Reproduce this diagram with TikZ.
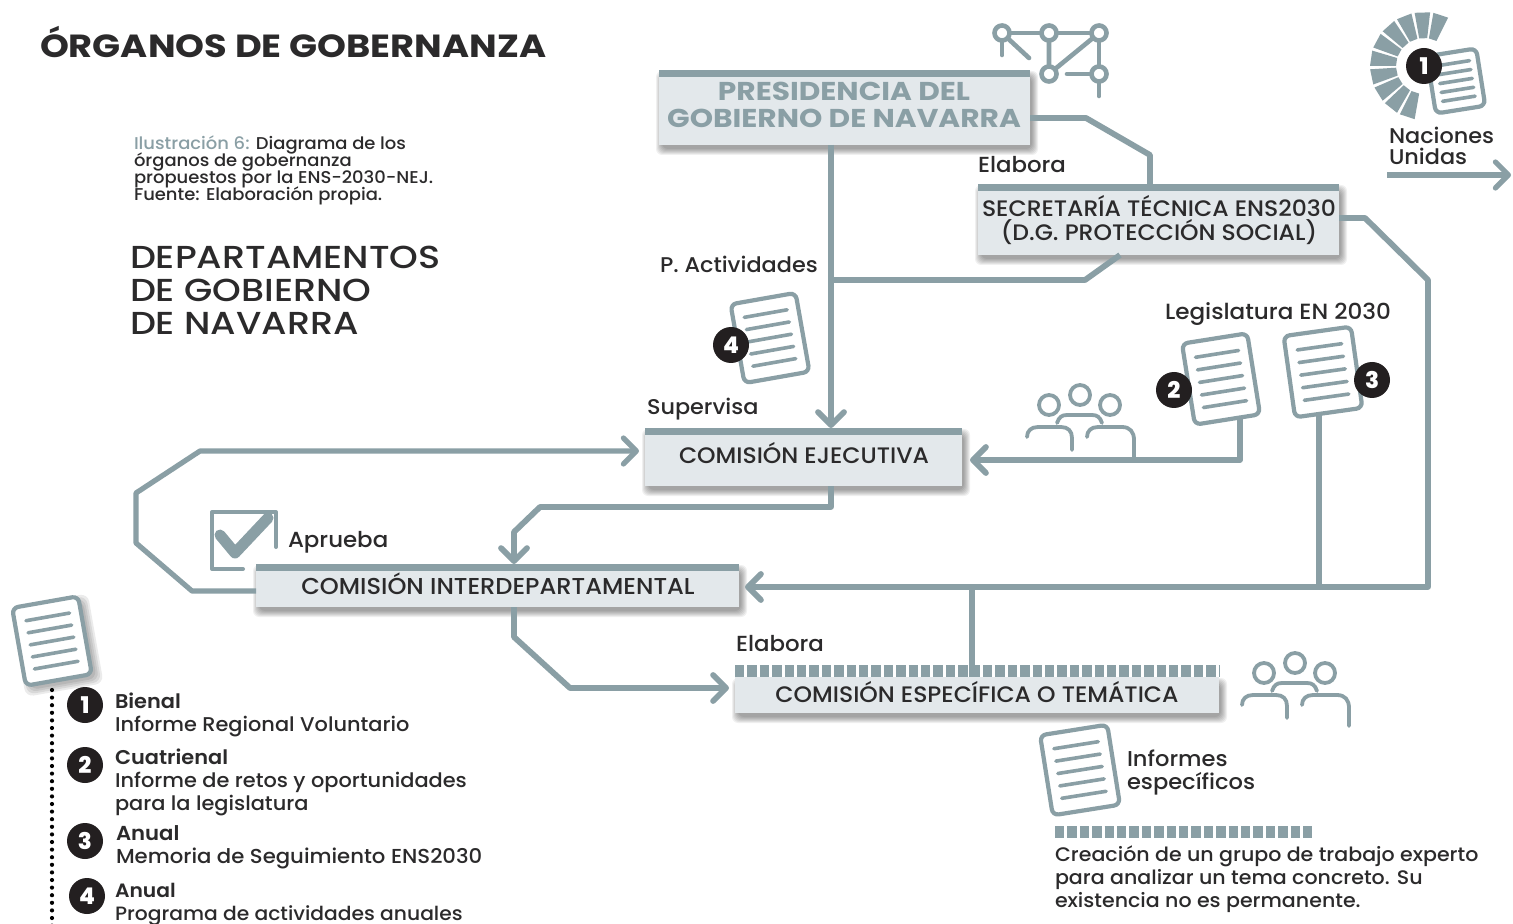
\documentclass[tikz,border=0pt]{standalone}
\usepackage{fontspec}
\setmainfont{Poppins Medium}[FakeStretch=1.05,BoldFont={Poppins SemiBold}]
\newfontfamily\widef{Poppins}[FakeStretch=1.15]
\newfontfamily\depf{Poppins Medium}[FakeStretch=1.15]
\newfontfamily\numf{Poppins ExtraBold}
\usetikzlibrary{arrows.meta,calc}
\AtBeginDocument{\lineskiplimit=-100pt\relax}
\definecolor{lin}{HTML}{8A9FA5}
\definecolor{boxfill}{HTML}{E3E8EB}
\definecolor{ink}{HTML}{2B2A2B}
\definecolor{badge}{HTML}{231F20}
\tikzset{
  x=0.5pt,y=-0.5pt,
  conn/.style={draw=lin,line width=2.9pt,line join=round},
  thin conn/.style={draw=lin,line width=2.6pt,line join=round},
  arr/.style={-{Straight Barb[length=6.5pt,width=13pt,round]}},
  body/.style={rectangle,fill=boxfill,inner sep=0pt,outer sep=0pt},
  topbar/.style={draw=lin,line width=3.5pt},
  dashbar/.style={draw=lin,line width=6pt,dash pattern=on 4.7pt off 1.5pt},
  txt/.style={anchor=base west,inner sep=0pt,outer sep=0pt,text=ink,align=left},
  ctr/.style={anchor=base,inner sep=0pt,outer sep=0pt,text=ink,align=center},
  num/.style={circle,fill=badge,text=white,minimum size=18pt,inner sep=0pt,font=\fontsize{11.5}{11.5}\numf},
  iconline/.style={draw=lin,line width=1.9pt,line cap=round,line join=round},
}
\newcommand\softshadow[4]{%
  \foreach \s in {6,5,4,3,2,1,0}{%
    \fill[black,opacity=.06,rounded corners=3pt] ({#1+3-\s},{#2+7-\s}) rectangle ({#3+2+\s},{#4+4+\s});
  }}
\newcommand\boxnode[5]{%
  \pgfmathsetmacro\bw{(#4-#2)*0.5}\pgfmathsetmacro\bh{(#5-#3)*0.5}%
  \softshadow{#2}{#3}{#4}{#5}%
  \node[body,minimum width=\bw pt,minimum height=\bh pt] (#1) at ({(#2+#4)/2},{(#3+#5)/2}) {};}
\newcommand\docicon[6]{% cx cy rot w h shadow-opacity
  \begin{scope}[shift={(#1,#2)},rotate=#3]
    \pgfmathsetmacro\hw{#4/2}\pgfmathsetmacro\hh{#5/2}\pgfmathsetmacro\lw{#4*0.33}\pgfmathsetmacro\st{#5*0.155}
    \ifnum#6>0
      \foreach \s in {6,4,2,0}{\fill[black,opacity=.08,rounded corners=4pt] ({-\hw+4-\s},{-\hh+5-\s}) rectangle ({\hw+4+\s},{\hh+5+\s});}
    \fi
    \filldraw[fill=white,draw=lin,line width=2.1pt,rounded corners=3pt] (-\hw,-\hh) rectangle (\hw,\hh);
    \foreach \k in {-2,-1,0,1,2}{\draw[lin,line width=1.8pt,line cap=round] (-\lw,{\k*\st}) -- (\lw,{\k*\st});}
  \end{scope}}
\newcommand\people[2]{%
  \begin{scope}[shift={(#1,#2)}]
    \draw[iconline,fill=white] (1049,405) circle (10);
    \draw[iconline,fill=white] (1080,395) circle (10);
    \draw[iconline,fill=white] (1110,405) circle (10);
    \draw[iconline] (1057,423) .. controls (1059,417) and (1062,415) .. (1067,415) -- (1092,415) .. controls (1097,415) and (1100,417) .. (1102,423);
    \draw[iconline] (1027,437) .. controls (1027,431) and (1031,427) .. (1038,427) -- (1061,427) .. controls (1068,427) and (1072,431) .. (1072,438) -- (1072,450);
    \draw[iconline] (1087,437) .. controls (1087,431) and (1091,427) .. (1098,427) -- (1122,427) .. controls (1130,427) and (1134,432) .. (1134,440) -- (1134,458);
  \end{scope}}
\begin{document}
\begin{tikzpicture}
\useasboundingbox (0,0) rectangle (1513,924);
\fill[white] (0,0) rectangle (1513,924);

% boxes
\boxnode{pres}{659}{70}{1030}{145}
\boxnode{sec}{978}{184}{1339}{255}
\boxnode{ejec}{645}{428}{962}{486}
\boxnode{inter}{256}{564}{739}{607}
\boxnode{espec}{735}{677}{1219}{713}
\draw[topbar] ($(pres.north west)+(0,3.5)$) -- ($(pres.north east)+(0,3.5)$);
\draw[topbar] ($(sec.north west)+(0,3.5)$) -- ($(sec.north east)+(0,3.5)$);
\draw[topbar] ($(ejec.north west)+(0,3.5)$) -- ($(ejec.north east)+(0,3.5)$);
\draw[topbar] ($(inter.north west)+(0,3.5)$) -- ($(inter.north east)+(0,3.5)$);
\draw[dashbar] ($(espec.north west)+(0,-6)$) -- ($(espec.north east)+(0,-6)$);

% guide coordinates
\coordinate (a1) at (1086,118);
\coordinate (a2) at (1150,155);
\coordinate (v) at (831,280);
\coordinate (a3) at (1085,280);
\coordinate (a4) at (1120,255);
\coordinate (a5) at (1339,218);
\coordinate (a6) at (1365,218);
\coordinate (a7) at (1428,280);
\coordinate (a8) at (1428,587);
\coordinate (doc3b) at (1319,412);
\coordinate (jb) at (972,587);
\coordinate (doc2b) at (1240,418);
\coordinate (a9) at (1240,460);
\coordinate (a10) at (831,507);
\coordinate (a11) at (540,507);
\coordinate (a12) at (514,532);
\coordinate (b1) at (192,591);
\coordinate (b2) at (136,543);
\coordinate (b3) at (136,493);
\coordinate (b4) at (200,451);
\coordinate (c1) at (514,637);
\coordinate (c2) at (570,688);
\coordinate (un1) at (1387,175);
\coordinate (un2) at (1511,175);

% connectors
\draw[conn] (pres.east|-a1) -- (a1) -- (a2) -- (a2|-sec.north);
\draw[conn,arr] (v|-pres.south) -- (v|-ejec.north);
\draw[conn] (a4) -- (a3) -- (v);
\draw[conn,arr,shorten >=3pt] (a5) -- (a6) -- (a7) -- (a8) -- (a8-|inter.east);
\draw[conn] (doc3b) -- (doc3b|-a8);
\draw[conn] (jb) -- (jb|-espec.north);
\draw[conn,arr,shorten >=4pt] (doc2b) -- (a9) -- (a9-|ejec.east);
\draw[conn,arr] (a10|-ejec.south) -- (a10) -- (a11) -- (a12) -- (a12|-inter.north);
\draw[thin conn,arr,shorten >=3pt] (inter.west|-b1) -- (b1) -- (b2) -- (b3) -- (b4) -- (b4-|ejec.west);
\draw[conn,arr,shorten >=3pt] (c1|-inter.south) -- (c1) -- (c2) -- (c2-|espec.west);
\draw[thin conn,arr] (un1) -- (un2);

% network icon
\begin{scope}
  \draw[iconline,line width=2.3pt] (1002,33) -- (1099,33) -- (1099,96);
  \draw[iconline,line width=2.3pt] (1002,33) -- (1002,55);
  \draw[iconline,line width=2.3pt] (1002,33) -- (1029,58);
  \draw[iconline,line width=2.3pt] (1049,33) -- (1049,74) -- (1099,33);
  \draw[iconline,line width=2.3pt] (1067,74) -- (1099,74);
  \foreach \p in {(1002,33),(1049,33),(1099,33),(1049,74),(1099,74)}
    \filldraw[fill=white,draw=lin,line width=2.3pt] \p circle (7.5);
\end{scope}

% UN wheel
\foreach \a in {62,82,102,122,142,162,182,202,222,242}{
  \pgfmathsetmacro\ao{\a+1.5}\pgfmathsetmacro\ab{\a+18}
  \fill[lin] ({1424+54*cos(\ao)},{66-54*sin(\ao)}) -- ({1424+28*cos(\ao)},{66-28*sin(\ao)}) -- ({1424+28*cos(\ab)},{66-28*sin(\ab)}) -- ({1424+54*cos(\ab)},{66-54*sin(\ab)}) -- cycle;
}
\docicon{1456}{81}{9}{50}{58}{0}
\node[num] (n1un) at (1424,66) {1};

% documents
\docicon{770}{338}{10}{66}{80}{0}
\node[num] (n4a) at (731,345) {4};
\docicon{1221}{379}{9}{66}{82}{0}
\node[num] (n2a) at (1174,390) {2};
\docicon{1323}{372}{8}{68}{82}{0}
\node[num] (n3a) at (1372,380) {3};
\docicon{52}{641}{10}{67}{79}{1}
\docicon{1080}{770}{9}{68}{81}{0}

% people
\people{0}{0}
\people{215}{268}

% checkbox
\draw[iconline,line width=2pt,line cap=round] (243,569) -- (212,569) -- (212,512) -- (276,512) -- (276,547);
\draw[lin,line width=5.5pt,line cap=round,line join=round] (220,535) -- (235,553) -- (268,518);

% second dashed bar
\coordinate (d1) at (1055,832);
\coordinate (d2) at (1314,832);
\draw[dashbar] (d1) -- (d2);

% dotted legend line
\foreach \i in {0,...,31}{\fill[black] (52,{690+7.6*\i}) circle (2.1);}

% box texts
\newcommand\boxfont{\fontsize{11.2}{12.4}\selectfont}
\node[ctr,text=lin,font=\fontsize{12.9}{13.5}\selectfont\widef\bfseries] (prest) at (844,128) {PRESIDENCIA DEL\\GOBIERNO DE NAVARRA};
\node[ctr,font=\boxfont] (sect) at (1159,241) {SECRETARÍA TÉCNICA ENS2030\\(D.G. PROTECCIÓN SOCIAL)};
\node[ctr,font=\boxfont] (eject) at (804,463) {COMISIÓN EJECUTIVA};
\node[ctr,font=\fontsize{11.5}{12}\selectfont] (intert) at (498,594) {COMISIÓN INTERDEPARTAMENTAL};
\node[ctr,font=\boxfont] (espect) at (977,702) {COMISIÓN ESPECÍFICA O TEMÁTICA};

% free texts
\node[txt,font=\fontsize{16}{16}\selectfont\widef\bfseries] (title) at (40,58) {ÓRGANOS DE GOBERNANZA};
\node[txt,font=\fontsize{8.55}{8.65}\selectfont] (cap) at (134,201) {\textcolor{lin}{Ilustración 6:} Diagrama de los\\órganos de gobernanza\\propuestos por la ENS-2030-NEJ.\\Fuente: Elaboración propia.};
\node[txt,font=\fontsize{15.9}{16.6}\selectfont\depf] (dep) at (130,335) {DEPARTAMENTOS\\DE GOBIERNO\\DE NAVARRA};
\newcommand\lblfont{\fontsize{10.9}{10.6}\selectfont}
\newcommand\lblsm{\fontsize{10.65}{10.6}\selectfont}
\node[txt,font=\lblfont] (l1) at (978,173) {Elabora};
\node[txt,font=\lblsm] (l2) at (660,273) {P. Actividades};
\node[txt,font=\lblsm] (l3) at (647,415) {Supervisa};
\node[txt,font=\fontsize{11}{11}\selectfont] (l4) at (1165,320) {Legislatura EN 2030};
\node[txt,font=\lblfont] (l5) at (288,547) {Aprueba};
\node[txt,font=\lblfont] (l6) at (736,651) {Elabora};
\node[txt,font=\lblsm] (l7) at (1389,165) {Naciones\\Unidas};
\node[txt,font=\fontsize{10.75}{11.5}\selectfont] (l8) at (1127,789) {Informes\\específicos};
\node[txt,font=\fontsize{9.8}{11.5}\selectfont] (l9) at (1055,907) {Creación de un grupo de trabajo experto\\para analizar un tema concreto. Su\\existencia no es permanente.};

% legend
\node[num] (n1) at (85,705) {1};
\node[num] (n2) at (85,765) {2};
\node[num] (n3) at (85,841) {3};
\node[num] (n4) at (87,896) {4};
\node[txt,font=\fontsize{9.95}{11.4}\selectfont] (t1) at (115,731) {\textbf{Bienal}\\Informe Regional Voluntario};
\node[txt,font=\fontsize{9.95}{11.3}\selectfont] (t2) at (115,810) {\textbf{Cuatrienal}\\Informe de retos y oportunidades\\para la legislatura};
\node[txt,font=\fontsize{10.1}{11.2}\selectfont] (t3) at (116,863) {\textbf{Anual}\\Memoria de Seguimiento ENS2030};
\node[txt,font=\fontsize{9.65}{11.2}\selectfont] (t4) at (115,920) {\textbf{Anual}\\Programa de actividades anuales};
\end{tikzpicture}
\end{document}
